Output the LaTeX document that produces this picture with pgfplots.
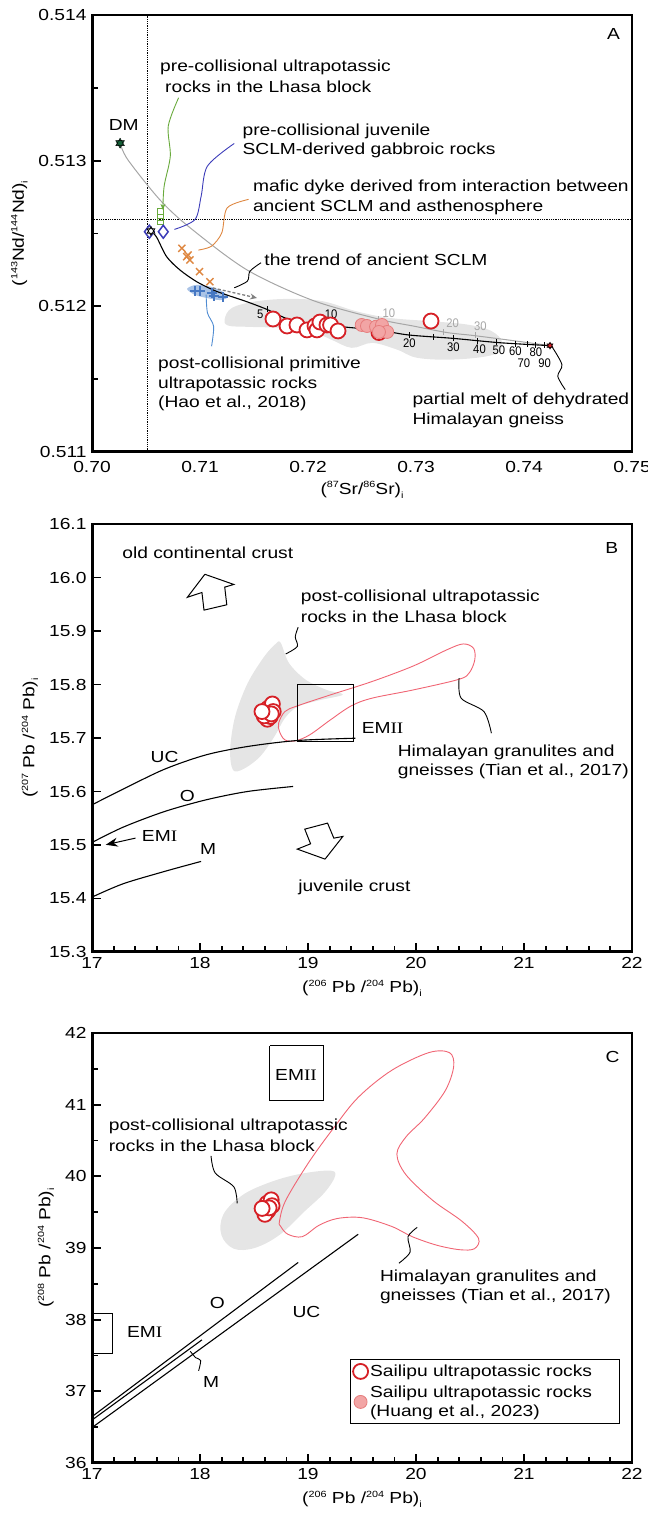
\documentclass[border=0pt]{standalone}
\usepackage{fontspec}
\setmainfont{Liberation Sans}[FakeStretch=1.2]
\newfontfamily\serifII{Liberation Serif}[FakeStretch=1.2]
\newfontfamily\narrowf{Liberation Sans}[FakeStretch=0.9]
\usepackage{pgfplots}
\pgfplotsset{compat=1.18}
\usetikzlibrary{arrows.meta}
\definecolor{redc}{RGB}{214,32,38}
\definecolor{pinkfill}{RGB}{242,165,165}
\definecolor{pinkdraw}{RGB}{230,125,125}
\definecolor{himred}{RGB}{240,100,115}
\definecolor{grayfill}{RGB}{229,229,229}
\definecolor{orangec}{RGB}{222,135,65}
\definecolor{bluep}{RGB}{70,120,195}
\definecolor{bluefill}{RGB}{170,195,230}
\definecolor{diamc}{RGB}{60,60,185}
\definecolor{greenc}{RGB}{105,170,60}
\definecolor{dmgreen}{RGB}{20,95,55}
\definecolor{leadblue}{RGB}{80,140,210}
\newcommand\sups[1]{\raisebox{0.75ex}{\fontsize{9}{9}\selectfont #1}}
\newcommand\subs[1]{\raisebox{-0.45ex}{\fontsize{9}{9}\selectfont #1}}
\newcommand\numf{\narrowf\fontsize{12.5}{12.5}\selectfont}
\pgfdeclareplotmark{hexstar}{%
  \pgfpathmoveto{\pgfqpointpolar{90}{\pgfplotmarksize}}%
  \pgfpathlineto{\pgfqpointpolar{210}{\pgfplotmarksize}}%
  \pgfpathlineto{\pgfqpointpolar{330}{\pgfplotmarksize}}%
  \pgfpathclose
  \pgfpathmoveto{\pgfqpointpolar{270}{\pgfplotmarksize}}%
  \pgfpathlineto{\pgfqpointpolar{30}{\pgfplotmarksize}}%
  \pgfpathlineto{\pgfqpointpolar{150}{\pgfplotmarksize}}%
  \pgfpathclose
  \pgfusepathqfillstroke}
\tikzset{tx/.style={anchor=west, inner sep=0pt}}
\pgfplotsset{
  panel/.style={scale only axis, width=540pt, anchor=south west, clip=false,
    tick align=inside, scaled ticks=false, tick pos=left,
    /pgf/number format/assume math mode=true,
    axis line style={line width=1.5pt},
    tick style={line width=1.8pt, black},
    major tick length=9pt, minor tick length=6pt},
  redo/.style={only marks, mark=*, mark size=7.5pt, mark options={fill=white, draw=redc, line width=1.8pt}},
  pinko/.style={only marks, mark=*, mark size=6.5pt, mark options={fill=pinkfill, draw=pinkdraw, line width=0.8pt}},
  lead/.style={smooth, no markers, line width=0.9pt},
}
\begin{document}
\fontsize{16}{19}\selectfont
\begin{tikzpicture}
\useasboundingbox (0,0) rectangle (648pt,1521pt);
%================ Panel A =================
\begin{axis}[panel, at={(92pt,1069pt)}, height=437pt,
  xmin=0.70, xmax=0.75, ymin=0.511, ymax=0.514,
  xtick={0.70,0.71,0.72,0.73,0.74,0.75},
  ytick={0.511,0.512,0.513,0.514}, minor ytick={0.5115,0.5125,0.5135},
  xtick style={draw=none},
  xticklabel style={yshift=-4pt,/pgf/number format/.cd,fixed,fixed zerofill,precision=2},
  yticklabel style={/pgf/number format/.cd,fixed,fixed zerofill,precision=3},
  xlabel={(\sups{87}Sr/\sups{86}Sr)\subs{i}},
  xlabel style={yshift=2pt},
  ylabel={(\sups{143}Nd/\sups{144}Nd)\subs{i}}]
\draw[line width=3pt] (rel axis cs:0,1) -- (rel axis cs:0,0) -- (rel axis cs:1,0);
% gray field
\addplot[fill=grayfill, draw=none, smooth cycle, tension=0.6] coordinates {
(0.71229,0.511914) (0.71298,0.511990) (0.71527,0.512035) (0.71832,0.512051)
(0.72137,0.512035) (0.72443,0.511967) (0.72748,0.511921) (0.73130,0.511898)
(0.73473,0.511875) (0.73702,0.511829) (0.73798,0.511749) (0.73721,0.511669)
(0.73359,0.511635) (0.73015,0.511646) (0.72824,0.511703) (0.72595,0.511749)
(0.72405,0.511715) (0.72214,0.511772) (0.72023,0.511829) (0.71756,0.511852)
(0.71450,0.511859) (0.71260,0.511868)};
% blue field
\addplot[fill=bluefill, draw=none, smooth cycle] coordinates {
(0.70880,0.512119) (0.70954,0.512146) (0.71065,0.512140) (0.71185,0.512112)
(0.71259,0.512064) (0.71185,0.512043) (0.71065,0.512057) (0.70954,0.512078)};
% reference lines
\addplot[densely dotted, line width=0.8pt] coordinates {(0.7051,0.511) (0.7051,0.514)};
\addplot[densely dotted, line width=0.8pt] coordinates {(0.70,0.5126) (0.75,0.5126)};
% gray mixing curve
\addplot[smooth, gray!70, line width=1pt] coordinates {
(0.7026,0.51312) (0.70333,0.513005) (0.70630,0.51273) (0.70907,0.51254)
(0.71435,0.51225) (0.72046,0.51204) (0.72667,0.51191) (0.72972,0.511865)
(0.73287,0.51182) (0.73528,0.51180) (0.73843,0.51177) (0.74241,0.51173)};
% black mixing curve
\addplot[smooth, black, line width=1.1pt] coordinates {
(0.70546,0.512517) (0.70599,0.512474) (0.70691,0.512341) (0.70815,0.512249)
(0.70969,0.512169) (0.71123,0.512112) (0.71247,0.512078) (0.71432,0.512032)
(0.71616,0.511980) (0.71824,0.511910) (0.72049,0.511880) (0.72380,0.511855)
(0.72667,0.511835) (0.72935,0.511803) (0.73343,0.511780) (0.73778,0.511750)
(0.74241,0.511730)};
\addplot[only marks, mark=|, mark size=3pt, black, line width=0.8pt] coordinates {
(0.7162,0.51198) (0.7224,0.511868) (0.72935,0.511803) (0.7316,0.511790)
(0.73343,0.511780) (0.7357,0.511765) (0.7374,0.511753) (0.7392,0.511744)
(0.7403,0.511739) (0.7411,0.511736) (0.7419,0.511732)};
\addplot[only marks, mark=|, mark size=3pt, gray!70, line width=0.8pt] coordinates {
(0.7265,0.51191) (0.7325,0.511825) (0.7355,0.511800)};
% curve labels
\node[font=\numf] at (axis cs:0.71557,0.511944) {5};
\node[font=\numf] at (axis cs:0.72214,0.511944) {10};
\node[font=\numf] at (axis cs:0.72939,0.511749) {20};
\node[font=\numf] at (axis cs:0.73347,0.511722) {30};
\node[font=\numf] at (axis cs:0.73588,0.511708) {40};
\node[font=\numf] at (axis cs:0.73767,0.511696) {50};
\node[font=\numf] at (axis cs:0.73920,0.511692) {60};
\node[font=\numf] at (axis cs:0.74111,0.511687) {80};
\node[font=\numf] at (axis cs:0.74000,0.511607) {70};
\node[font=\numf] at (axis cs:0.74191,0.511607) {90};
\node[font=\numf, gray!70] at (axis cs:0.72748,0.511955) {10};
\node[font=\numf, gray!70] at (axis cs:0.73340,0.511882) {20};
\node[font=\numf, gray!70] at (axis cs:0.73595,0.511863) {30};
% dashed arrow
\addplot[densely dashed, gray, line width=1.3pt, -{Stealth[length=7pt,width=6pt]}] coordinates {(0.71120,0.512126) (0.71528,0.512057)};
% data symbols
\addplot[only marks, mark=x, mark size=5pt, orangec, line width=1.4pt] coordinates {
(0.70832,0.512398) (0.70889,0.512352) (0.70907,0.512318) (0.70877,0.512341)
(0.70996,0.512238) (0.71092,0.512169)};
\addplot[only marks, mark=+, mark size=5pt, bluep, line width=1.5pt] coordinates {
(0.70954,0.512105) (0.71000,0.512105) (0.71111,0.512092) (0.71130,0.512071) (0.71213,0.512064)};
\addplot[only marks, mark=square, mark size=3pt, greenc, line width=1pt] coordinates {
(0.70630,0.512648) (0.70630,0.512613) (0.70630,0.512579)};
\addplot[only marks, mark=diamond*, mark size=6.5pt, mark options={fill=white, draw=diamc, line width=1.5pt}] coordinates {
(0.70531,0.512512) (0.70660,0.512512)};
\addplot[only marks, mark=hexstar, mark size=4.5pt, mark options={fill=white, draw=black, line width=0.7pt}] coordinates {(0.70546,0.512517)};
\addplot[only marks, mark=hexstar, mark size=5pt, mark options={fill=dmgreen, draw=black, line width=0.4pt}] coordinates {(0.7026,0.51312)};
\addplot[only marks, mark=hexstar, mark size=3.5pt, mark options={fill=redc, draw=black, line width=0.4pt}] coordinates {(0.74241,0.51173)};
\addplot[redo] coordinates {
(0.71676,0.511913) (0.71806,0.511865) (0.71898,0.511872) (0.71991,0.511838)
(0.72065,0.511865) (0.72083,0.511838) (0.72111,0.511892) (0.72176,0.511872)
(0.72209,0.511872) (0.72278,0.511831) (0.72667,0.511850) (0.72657,0.511820)
(0.73139,0.511899)};
\addplot[pinko] coordinates {
(0.72497,0.511872) (0.72546,0.511865) (0.72630,0.511860) (0.72685,0.511872)
(0.72733,0.511824) (0.72657,0.511824)};
% leaders
\addplot[lead, greenc, -{Stealth[length=6pt,width=5pt]}] coordinates {
(0.70802,0.513432) (0.70706,0.513237) (0.70725,0.513031) (0.70668,0.512825) (0.70656,0.512662)};
\addplot[lead, diamc] coordinates {
(0.71317,0.513118) (0.71069,0.512963) (0.71011,0.512757) (0.70954,0.512596) (0.70763,0.512528)};
\addplot[lead, orangec] coordinates {
(0.71450,0.512734) (0.71252,0.512676) (0.71202,0.512505) (0.71107,0.512413) (0.70985,0.512386)};
\addplot[lead, black] coordinates {
(0.71565,0.512299) (0.71462,0.512241) (0.71439,0.512173) (0.71317,0.512127)};
\addplot[lead, leadblue] coordinates {
(0.71057,0.512081) (0.71069,0.511955) (0.71126,0.511863) (0.71107,0.511726)};
\addplot[lead, black] coordinates {
(0.74256,0.511726) (0.74351,0.511600) (0.74313,0.511520) (0.74382,0.511428)};
% texts
\node[tx] at (axis cs:0.70630,0.513638) {pre-collisional ultrapotassic};
\node[tx] at (axis cs:0.70676,0.513508) {rocks in the Lhasa block};
\node at (axis cs:0.70294,0.513242) {DM};
\node[tx] at (axis cs:0.71393,0.513203) {pre-collisional juvenile};
\node[tx] at (axis cs:0.71393,0.513070) {SCLM-derived gabbroic rocks};
\node[tx] at (axis cs:0.71489,0.512814) {mafic dyke derived from interaction between};
\node[tx] at (axis cs:0.71489,0.512681) {ancient SCLM and asthenosphere};
\node[tx] at (axis cs:0.71595,0.512317) {the trend of ancient SCLM};
\node[tx] at (axis cs:0.70611,0.511600) {post-collisional primitive};
\node[tx] at (axis cs:0.70611,0.511467) {ultrapotassic rocks};
\node[tx] at (axis cs:0.70611,0.511335) {(Hao et al., 2018)};
\node[tx] at (axis cs:0.72966,0.511353) {partial melt of dehydrated};
\node[tx] at (axis cs:0.72966,0.511218) {Himalayan gneiss};
\node at (axis cs:0.74828,0.513867) {A};
\end{axis}
%================ Panel B =================
\begin{axis}[panel, at={(92pt,569pt)}, height=428pt,
  xmin=17, xmax=22, ymin=15.3, ymax=16.1,
  xtick={17,18,19,20,21,22}, minor x tick num=4,
  ytick={15.3,15.4,15.5,15.6,15.7,15.8,15.9,16.0,16.1},
  yticklabel style={/pgf/number format/.cd,fixed,fixed zerofill,precision=1},
  xlabel={(\sups{206} Pb /\sups{204} Pb)\subs{i}},
  ylabel={(\sups{207} Pb /\sups{204} Pb)\subs{i}}]
\draw[line width=3pt] (rel axis cs:0,1) -- (rel axis cs:0,0) -- (rel axis cs:1,0);
\addplot[fill=grayfill, draw=none, smooth cycle, tension=0.55] coordinates {
(18.747,15.878) (18.824,15.840) (18.978,15.809) (19.170,15.790) (19.323,15.781)
(19.093,15.770) (18.901,15.758) (18.786,15.737) (18.690,15.703) (18.555,15.665)
(18.402,15.642) (18.306,15.640) (18.279,15.678) (18.325,15.740) (18.440,15.802)
(18.594,15.852) (18.701,15.876)};
\addplot[draw=himred, line width=0.9pt, smooth cycle, tension=0.55] coordinates {
(18.728,15.7277) (18.786,15.7494) (18.901,15.7600) (19.208,15.7806) (19.592,15.8055)
(19.976,15.8347) (20.283,15.8646) (20.437,15.8758) (20.533,15.8677) (20.544,15.8460)
(20.495,15.8223) (20.399,15.8098) (19.976,15.7899) (19.592,15.7744) (19.400,15.7600)
(19.208,15.7339) (19.016,15.7059) (18.882,15.6946) (18.786,15.6965) (18.736,15.7121)};
\addplot[black, line width=1pt] coordinates {(18.901,15.7999) (19.419,15.7999) (19.419,15.6934) (18.901,15.6934) (18.901,15.7999)};
\addplot[smooth, black, line width=1.1pt] coordinates {
(17.0,15.5751) (17.288,15.6044) (17.672,15.6417) (18.056,15.6685) (18.440,15.6841) (18.901,15.6953) (19.439,15.6996)};
\addplot[smooth, black, line width=1.1pt] coordinates {
(17.0,15.5047) (17.288,15.5333) (17.672,15.5626) (18.056,15.5844) (18.440,15.600) (18.862,15.6094)};
\addplot[smooth, black, line width=1.1pt] coordinates {
(17.0,15.4026) (17.288,15.4275) (17.672,15.4506) (18.010,15.4693)};
\addplot[black, line width=1pt, -{Stealth[length=12pt,width=9pt]}] coordinates {(17.403,15.5129) (17.127,15.5004)};
\addplot[fill=white, draw=black, line width=1pt] coordinates {
(18.045,16.006) (18.313,15.987) (18.229,15.982) (18.248,15.949) (18.037,15.939) (18.018,15.972) (17.883,15.963) (18.045,16.006)};
\addplot[fill=white, draw=black, line width=1pt] coordinates {
(19.158,15.4736) (19.323,15.5160) (19.239,15.5128) (19.181,15.5409) (18.970,15.5296) (19.024,15.5022) (18.901,15.4923) (19.158,15.4736)};
\addplot[redo] coordinates {
(18.632,15.7556) (18.670,15.7636) (18.678,15.7494) (18.624,15.7351) (18.651,15.7401)
(18.594,15.7413) (18.660,15.7450) (18.574,15.7494)};
\addplot[lead, black] coordinates {(18.909,15.907) (18.882,15.889) (18.901,15.871) (18.793,15.857)};
\addplot[lead, black] coordinates {(20.399,15.8117) (20.418,15.7744) (20.629,15.7494) (20.698,15.709)};
\node[tx] at (axis cs:17.280,16.0465) {old continental crust};
\node at (axis cs:21.812,16.0545) {B};
\node[tx] at (axis cs:18.932,15.963) {post-collisional ultrapotassic};
\node[tx] at (axis cs:18.932,15.9269) {rocks in the Lhasa block};
\node[tx] at (axis cs:19.496,15.7183) {EM{\serifII II}};
\node[tx] at (axis cs:19.830,15.673) {Himalayan granulites and};
\node[tx] at (axis cs:19.830,15.6367) {gneisses (Tian et al., 2017)};
\node at (axis cs:17.672,15.6654) {UC};
\node at (axis cs:17.883,15.5919) {O};
\node at (axis cs:18.075,15.4923) {M};
\node[tx] at (axis cs:17.461,15.5172) {EM{\serifII I}};
\node[tx] at (axis cs:18.909,15.4213) {juvenile crust};
\end{axis}
%================ Panel C =================
\begin{axis}[panel, at={(92pt,58pt)}, height=430pt,
  xmin=17, xmax=22, ymin=36, ymax=42,
  xtick={17,18,19,20,21,22}, minor x tick num=4,
  ytick={36,37,38,39,40,41,42}, minor y tick num=1,
  xlabel={(\sups{206} Pb /\sups{204} Pb)\subs{i}},
  ylabel={(\sups{208} Pb /\sups{204} Pb)\subs{i}},
  legend style={at={(0.477,0.242)}, anchor=north west, draw=black, line width=1pt,
    font=\fontsize{16}{19}\selectfont, cells={align=left, anchor=west},
    row sep=3pt, inner xsep=3pt, inner ysep=3pt},
  legend cell align=left]
\addlegendimage{redo}
\addlegendentry{Sailipu ultrapotassic rocks\hspace*{22pt}}
\addlegendimage{pinko}
\addlegendentry{Sailipu ultrapotassic rocks\\(Huang et al., 2023)}
\draw[line width=3pt] (rel axis cs:0,1) -- (rel axis cs:0,0) -- (rel axis cs:1,0);
\addplot[fill=grayfill, draw=none, smooth cycle, tension=0.6] coordinates {
(19.254,40.022) (19.158,39.782) (18.966,39.508) (18.736,39.182) (18.505,39.000)
(18.313,38.990) (18.198,39.182) (18.217,39.470) (18.390,39.734) (18.621,39.902)
(18.889,40.022) (19.177,40.080)};
\addplot[draw=himred, line width=0.9pt, smooth cycle, tension=0.55] coordinates {
(18.736,39.374) (18.793,39.662) (19.005,40.190) (19.235,40.670) (19.465,41.102)
(19.773,41.477) (20.118,41.726) (20.310,41.726) (20.349,41.534) (20.272,41.198)
(20.080,40.814) (19.907,40.550) (19.823,40.310) (19.907,40.022) (20.157,39.662)
(20.425,39.374) (20.579,39.134) (20.541,38.990) (20.406,38.976) (20.195,39.038)
(19.965,39.158) (19.773,39.302) (19.504,39.422) (19.273,39.412) (19.101,39.316)
(18.947,39.158) (18.813,39.192) (18.747,39.302)};
\addplot[black, line width=1pt] coordinates {(18.647,41.822) (19.147,41.822) (19.147,41.054) (18.647,41.054) (18.647,41.822)};
\addplot[black, line width=1pt] coordinates {(17.0,38.087) (17.192,38.087) (17.192,37.526) (17.0,37.526)};
\addplot[black, line width=1.1pt] coordinates {(17.0,36.647) (18.909,38.798)};
\addplot[black, line width=1.1pt] coordinates {(17.0,36.599) (18.018,37.718)};
\addplot[black, line width=1.1pt] coordinates {(17.0,36.494) (19.465,39.192)};
\addplot[lead, black] coordinates {(17.910,37.559) (17.960,37.47) (18.006,37.430) (17.987,37.286)};
\addplot[redo] coordinates {
(18.621,39.624) (18.659,39.672) (18.628,39.518) (18.601,39.470) (18.667,39.590)
(18.640,39.560) (18.575,39.552)};
\addplot[lead, black] coordinates {(18.102,40.286) (18.141,40.046) (18.313,39.854) (18.344,39.624)};
\addplot[lead, black] coordinates {(20.011,39.288) (19.926,39.158) (19.945,38.942) (19.842,38.788)};
\node at (axis cs:18.889,41.414) {EM{\serifII II}};
\node[tx] at (axis cs:17.323,37.823) {EM{\serifII I}};
\node[tx] at (axis cs:17.154,40.704) {post-collisional ultrapotassic};
\node[tx] at (axis cs:17.154,40.430) {rocks in the Lhasa block};
\node[tx] at (axis cs:19.665,38.596) {Himalayan granulites and};
\node[tx] at (axis cs:19.665,38.327) {gneisses (Tian et al., 2017)};
\node at (axis cs:18.160,38.231) {O};
\node at (axis cs:18.985,38.111) {UC};
\node at (axis cs:18.102,37.127) {M};
\node at (axis cs:21.820,41.669) {C};
\end{axis}
\end{tikzpicture}
\end{document}
